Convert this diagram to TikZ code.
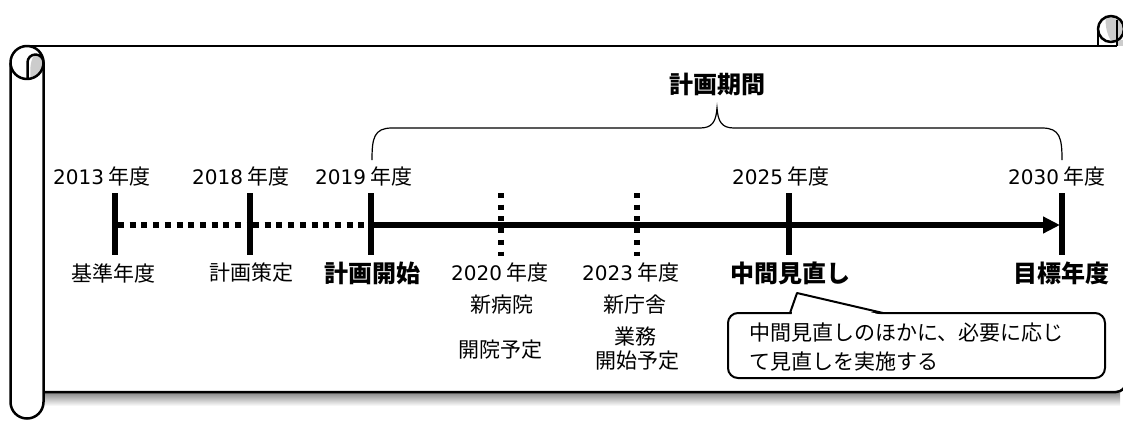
\documentclass[tikz,border=0pt]{standalone}
\usepackage{fontspec}
\setmainfont{Noto Sans CJK JP}
\newfontfamily\latinfont{DejaVu Sans}
\usetikzlibrary{arrows.meta}
\newcommand{\yr}[1]{{\fontsize{20}{25}\latinfont #1} 年度}
\tikzset{
  outline/.style={line width=2.5pt, line join=round},
  rollgrey/.style={fill=black!20},
  yeartick/.style={line width=6pt},
  dotv/.style={line width=5.5pt, dash pattern=on 5pt off 6.7pt},
  doth/.style={line width=5.5pt, dash pattern=on 6pt off 5.7pt},
  mainline/.style={line width=5.5pt, -{Triangle[length=17pt,width=16pt]}},
  lbl/.style={font=\fontsize{21}{25}\selectfont, inner sep=0pt},
  blbl/.style={font=\fontsize{24}{28}\selectfont\bfseries, inner sep=0pt},
  bracestyle/.style={line width=1.2pt},
  calloutline/.style={line width=2pt},
}
\begin{document}
\begin{tikzpicture}[x=1pt,y=-1pt]
\useasboundingbox (0,0) rectangle (1123,421);
% shadow under scroll
\shade[top color=black!45,bottom color=white] (44,393) rectangle (1120,406);
% grey parts of the rolls
\fill[rollgrey] (43.5,62.5) arc[start angle=0,end angle=-90,radius=8] .. controls (31,57) and (29.5,68) .. (30.6,78.6) arc[start angle=77.3,end angle=0,radius=16.5] -- cycle;
\begin{scope}
\clip (1111,29) circle[radius=13];
\fill[rollgrey] (1107,10) .. controls (1104,22) and (1106,34) .. (1112,42) -- (1130,42) -- (1130,10) -- cycle;
\end{scope}
\fill[rollgrey] (1117,40) rectangle (1126,46);
% scroll outline
\draw[outline] (27,62.5) circle[radius=16.5];
\draw[outline] (27.5,79) -- (27.5,62.5) arc[start angle=180,end angle=360,radius=8] -- (43.5,402) arc[start angle=0,end angle=180,radius=16.5] -- (10.5,62.5);
\draw[outline] (27,46) -- (1117,46);
\draw[outline] (1126,30) [rounded corners=10pt] -- (1126,392) [sharp corners] -- (43.5,392);
\draw[outline] (1111,29) circle[radius=13];
\draw[outline] (1098,29) -- (1098,46);
\draw[outline] (1117,20) -- (1117,46);

% axis points
\coordinate (a13) at (115,225);
\coordinate (a18) at (250,225);
\coordinate (a19) at (371,225);
\coordinate (a25) at (789,225);
\coordinate (a30) at (1062,225);
\coordinate (t13) at (115,193); \coordinate (b13) at (115,255);
\coordinate (t18) at (250,193); \coordinate (b18) at (250,255);
\coordinate (t19) at (371,193); \coordinate (b19) at (371,255);
\coordinate (t25) at (789,193); \coordinate (b25) at (789,255);
\coordinate (t30) at (1062,193); \coordinate (b30) at (1062,255);
\coordinate (t20) at (501,193); \coordinate (b20) at (501,256);
\coordinate (t23) at (637,193); \coordinate (b23) at (637,256);

% timeline
\draw[doth] ([xshift=3pt]a13) -- (a18);
\draw[doth] ([xshift=3pt]a18) -- (a19);
\draw[mainline] (a19) -- ([xshift=-2pt]a30);
\foreach \n in {13,18,19,25,30} \draw[yeartick] (t\n) -- (b\n);
\draw[dotv] (t20) -- (b20);
\draw[dotv] (t23) -- (b23);

% year labels
\node[lbl] (y13) at (102,176) {\yr{2013}};
\node[lbl] (y18) at (241,176) {\yr{2018}};
\node[lbl] (y19) at (364,176) {\yr{2019}};
\node[lbl] (y25) at (781,176) {\yr{2025}};
\node[lbl] (y30) at (1057,176) {\yr{2030}};

% lower labels
\node[lbl] (l13) at (113,273) {基準年度};
\node[lbl] (l18) at (251,273) {計画策定};
\node[blbl] (l19) at (372,273) {計画開始};
\node[blbl] (l25) at (790,273) {中間見直し};
\node[blbl] (l30) at (1061,273) {目標年度};

\node[lbl] (y20) at (500,272) {\yr{2020}};
\node[lbl] (h1) at (502,305) {新病院};
\node[lbl] (h2) at (500,350) {開院予定};
\node[lbl] (y23) at (631,272) {\yr{2023}};
\node[lbl] (c1) at (635,305) {新庁舎};
\node[lbl] (c2) at (635,337) {業務};
\node[lbl] (c3) at (637,361) {開始予定};

% plan period brace
\node[blbl] (period) at (717,84) {計画期間};
\coordinate (bl) at (372,160);
\coordinate (br) at (1062,160);
\coordinate (bm) at (717,108);
\draw[bracestyle] (bl) .. controls (372,138) and (374,128) .. (392,128) -- (700,128) .. controls (712,128) and (716,122) .. (bm) .. controls (718,122) and (722,128) .. (734,128) -- (1042,128) .. controls (1060,128) and (1062,138) .. (br);

% callout
\draw[calloutline, rounded corners=10pt, fill=white] (728,313) rectangle (1105,378);
\fill[white] (791.5,315) -- (797,293) -- (881.5,315) -- cycle;
\coordinate (ptip) at (797,293);
\draw[calloutline, line join=round] (790,313) -- (ptip) -- (883,313);
\node[anchor=west, align=left, font=\fontsize{21}{29}\selectfont, inner sep=0pt] (note) at (749,347.5) {中間見直しのほかに、必要に応じ\\て見直しを実施する};
\end{tikzpicture}
\end{document}
